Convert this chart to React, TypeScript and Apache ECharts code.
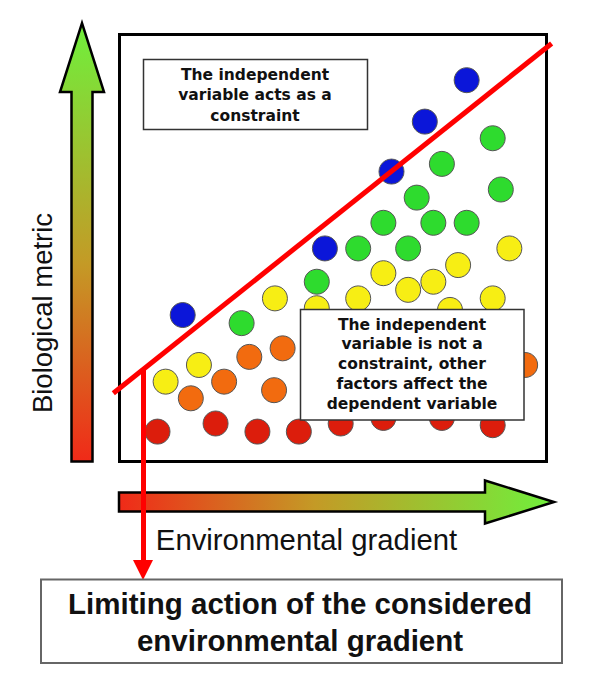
import React, { useEffect, useRef } from "react";
import * as echarts from "echarts";

// Data values on a 0-100 scale inside the plot frame
const bluePoints: number[][] = [
  [81.3, 89.3], [71.5, 79.6], [63.7, 67.9], [48.1, 49.9], [14.8, 34.3],
];
const greenPoints: number[][] = [
  [87.4, 75.7], [75.5, 69.7], [89.3, 63.7], [69.6, 61.8], [61.8, 55.9],
  [73.5, 55.9], [81.3, 55.9], [55.9, 49.9], [67.6, 49.9], [46.2, 42.1], [28.6, 32.4],
];
const yellowPoints: number[][] = [
  [91.3, 49.9], [79.3, 46.0], [61.8, 44.1], [73.5, 42.1], [67.6, 40.2],
  [36.4, 38.2], [55.9, 38.2], [87.4, 38.2], [46.2, 35.9], [77.4, 35.5],
  [18.6, 22.6], [10.8, 18.7],
];
const orangePoints: number[][] = [
  [38.2, 26.5], [30.4, 24.5], [24.5, 18.7], [16.7, 14.8], [36.2, 16.7], [95.0, 22.6],
];
const redPoints: number[][] = [
  [8.9, 7.0], [22.5, 8.9], [32.3, 7.0], [42.0, 7.0], [51.8, 8.9],
  [61.8, 10.2], [75.5, 10.2], [87.4, 8.5],
];
const frameMin = [0, 0];
const frameMax = [100, 100];
const constraintLine: number[][] = [[-1.45, 16.0], [101.2, 97.9]];
const limitX = 5.5;
const limitStartY = 21.5;
const limitEndY = -25.4;

const groupColors = ["#0b16d9", "#2edb2e", "#f7ee14", "#f26b0f", "#dc1d0c"];
const groups = [bluePoints, greenPoints, yellowPoints, orangePoints, redPoints];

const textTop = "The independent\nvariable acts as a\nconstraint";
const textMid = "The independent\nvariable is not a\nconstraint, other\nfactors affect the\ndependent variable";
const textBottom = "Limiting action of the considered\nenvironmental gradient";
const xLabel = "Environmental gradient";
const yLabel = "Biological metric";

// pixel scale: 4.27 px per unit, frame origin at (119.5, 461.5)
const X_MIN = -5;
const X_MAX = 106;
const Y_MIN = -30;
const Y_MAX = 105;
const PX = 4.27;
const OX = 119.5;
const OY = 461.5;

export default function App() {
  const ref = useRef<HTMLDivElement>(null);
  useEffect(() => {
    document.body.style.margin = "0";
    document.body.style.background = "#fff";
    if (!ref.current) return;
    const chart = echarts.init(ref.current, undefined, { renderer: "svg" });
    const vGrad = new echarts.graphic.LinearGradient(0, 0, 0, 1, [
      { offset: 0, color: "#6ff03c" },
      { offset: 0.55, color: "#c49a26" },
      { offset: 1, color: "#f02a18" },
    ]);
    const hGrad = new echarts.graphic.LinearGradient(0, 0, 1, 0, [
      { offset: 0, color: "#f02a18" },
      { offset: 0.45, color: "#c49a26" },
      { offset: 1, color: "#6ff03c" },
    ]);
    const boxFont = "DejaVu Sans";
    chart.setOption({
      animation: false,
      backgroundColor: "#ffffff",
      grid: {
        left: OX + X_MIN * PX,
        top: OY - Y_MAX * PX,
        width: (X_MAX - X_MIN) * PX,
        height: (Y_MAX - Y_MIN) * PX,
        show: false,
      },
      xAxis: { type: "value", min: X_MIN, max: X_MAX, show: false },
      yAxis: { type: "value", min: Y_MIN, max: Y_MAX, show: false },
      series: [
        ...groups.map((g, i) => ({
          type: "scatter",
          data: g,
          symbolSize: 25,
          z: 2,
          itemStyle: { color: groupColors[i], borderColor: "#555", borderWidth: 1, opacity: 1 },
          silent: true,
          ...(i === 0
            ? {
                markArea: {
                  silent: true,
                  itemStyle: { color: "rgba(0,0,0,0)", borderColor: "#000", borderWidth: 3 },
                  label: { show: false },
                  data: [[{ coord: frameMin }, { coord: frameMax }]],
                },
              }
            : {}),
        })),
        {
          type: "line",
          data: constraintLine,
          symbol: "none",
          clip: false,
          z: 4,
          lineStyle: { color: "#ff0000", width: 5 },
          silent: true,
          markLine: {
            silent: true,
            symbol: ["none", "triangle"],
            symbolSize: 20,
            label: { show: false },
            lineStyle: { color: "#ff0000", width: 5, type: "solid" },
            itemStyle: { color: "#ff0000" },
            data: [[{ coord: [limitX, limitStartY] }, { coord: [limitX, limitEndY] }]],
          },
        },
      ],
      graphic: [
        {
          type: "polygon",
          z: 1,
          shape: {
            points: [[71.5, 461.5], [92.5, 461.5], [92.5, 92], [104, 92], [82, 23], [60, 92], [71.5, 92]],
          },
          style: { fill: vGrad, stroke: "#000", lineWidth: 2.5 },
        },
        {
          type: "polygon",
          z: 1,
          shape: {
            points: [[119, 492.5], [485, 492.5], [485, 480.5], [554, 502], [485, 523.5], [485, 511.5], [119, 511.5]],
          },
          style: { fill: hGrad, stroke: "#000", lineWidth: 2.5 },
        },
        {
          type: "text",
          z: 1,
          x: 42,
          y: 313,
          rotation: Math.PI / 2,
          style: {
            text: yLabel,
            fontFamily: "Liberation Sans",
            fontSize: 27.5,
            fill: "#111",
            align: "center",
            verticalAlign: "middle",
          },
        },
        {
          type: "text",
          z: 1,
          x: 306.5,
          y: 539,
          style: {
            text: xLabel,
            fontFamily: "Liberation Sans",
            fontSize: 29.3,
            fill: "#111",
            align: "center",
            verticalAlign: "middle",
          },
        },
        {
          type: "rect",
          z: 10,
          shape: { x: 143.5, y: 59.5, width: 224, height: 70 },
          style: { fill: "#fff", stroke: "#333", lineWidth: 1.5 },
        },
        {
          type: "text",
          z: 11,
          x: 255,
          y: 95,
          style: {
            text: textTop,
            fontFamily: boxFont,
            fontWeight: "bold",
            fontSize: 15.5,
            lineHeight: 20.5,
            fill: "#111",
            align: "center",
            verticalAlign: "middle",
          },
        },
        {
          type: "rect",
          z: 10,
          shape: { x: 300.5, y: 309.5, width: 223.5, height: 110.5 },
          style: { fill: "#fff", stroke: "#333", lineWidth: 1.5 },
        },
        {
          type: "text",
          z: 11,
          x: 412,
          y: 364,
          style: {
            text: textMid,
            fontFamily: boxFont,
            fontWeight: "bold",
            fontSize: 15.5,
            lineHeight: 19.75,
            fill: "#111",
            align: "center",
            verticalAlign: "middle",
          },
        },
        {
          type: "rect",
          z: 10,
          shape: { x: 41, y: 579.5, width: 521, height: 83.5 },
          style: { fill: "#fff", stroke: "#666", lineWidth: 2 },
        },
        {
          type: "text",
          z: 11,
          x: 300,
          y: 622,
          style: {
            text: textBottom,
            fontFamily: "Liberation Sans",
            fontWeight: "bold",
            fontSize: 29.5,
            lineHeight: 37,
            fill: "#111",
            align: "center",
            verticalAlign: "middle",
          },
        },
      ],
    });
    return () => chart.dispose();
  }, []);
  return <div ref={ref} style={{ width: 599, height: 691 }} />;
}
